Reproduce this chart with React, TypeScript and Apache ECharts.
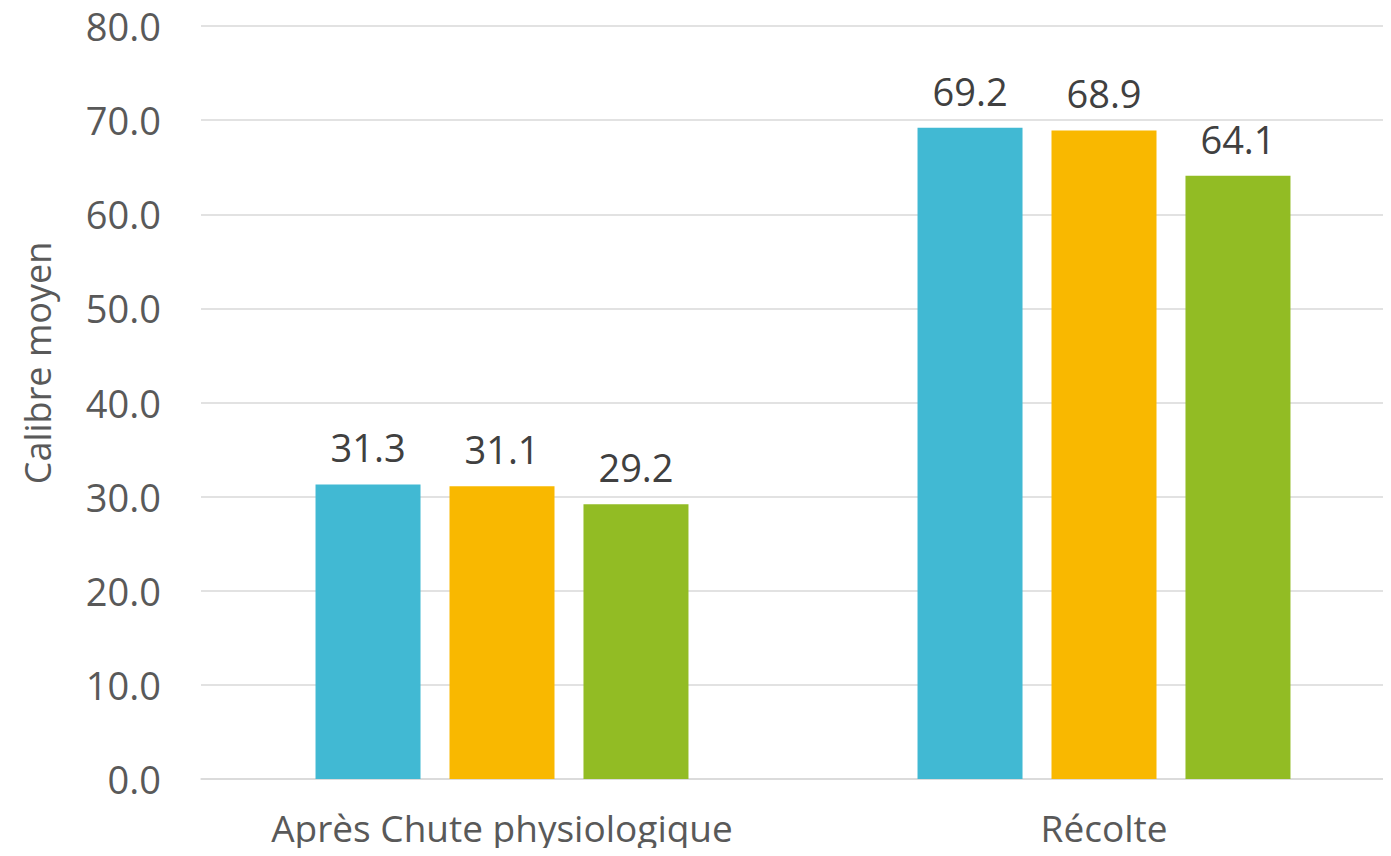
import React, { useEffect, useRef } from "react";
import * as echarts from "echarts";

const categories = ["Après Chute physiologique", "Récolte"];
const seriesA = [31.3, 69.2];
const seriesB = [31.1, 68.9];
const seriesC = [29.2, 64.1];
const seriesNames = ["Série 1", "Série 2", "Série 3"];
const colors = ["#41B9D3", "#F9B800", "#92BC24"];
const yTitle = "Calibre moyen";

const FONT = "'Open Sans', 'Noto Sans', sans-serif";

export default function App() {
  const ref = useRef<HTMLDivElement>(null);
  useEffect(() => {
    if (!ref.current) return;
    const chart = echarts.init(ref.current, undefined, { renderer: "svg" });
    const mk = (name: string, data: number[], color: string) => ({
      name,
      type: "bar",
      data,
      barWidth: 105,
      barGap: "27.6%",
      itemStyle: { color },
      label: {
        show: true,
        position: "top",
        distance: 18,
        formatter: (p: any) => Number(p.value).toFixed(1),
        fontFamily: FONT,
        fontSize: 38,
        color: "#404040",
      },
    });
    chart.setOption({
      animation: false,
      textStyle: { fontFamily: FONT },
      grid: {
        left: 201,
        width: 1204,
        top: 26,
        bottom: 77,
        containLabel: false,
        outerBoundsMode: "none",
      },
      xAxis: {
        type: "category",
        data: categories,
        axisTick: { show: false },
        axisLine: { show: true, lineStyle: { color: "#D9D9D9", width: 1.5 } },
        axisLabel: {
          interval: 0,
          fontFamily: FONT,
          fontSize: 37,
          color: "#595959",
          margin: 30,
          hideOverlap: false,
        },
      },
      yAxis: {
        type: "value",
        min: 0,
        max: 80,
        interval: 10,
        axisLine: { show: false },
        axisTick: { show: false },
        splitLine: { lineStyle: { color: "#D9D9D9", width: 1.5 } },
        axisLabel: {
          fontFamily: FONT,
          fontSize: 38,
          color: "#595959",
          margin: 40,
          formatter: (v: number) => v.toFixed(1),
        },
      },
      graphic: [
        {
          type: "text",
          x: 37,
          y: 363,
          rotation: Math.PI / 2,
          style: {
            text: yTitle,
            fontFamily: FONT,
            fontSize: 36,
            fill: "#595959",
            align: "center",
            verticalAlign: "middle",
          },
        },
      ],
      series: [
        mk(seriesNames[0], seriesA, colors[0]),
        mk(seriesNames[1], seriesB, colors[1]),
        mk(seriesNames[2], seriesC, colors[2]),
      ],
    });
    return () => chart.dispose();
  }, []);
  return <div ref={ref} style={{ width: 1391, height: 856, margin: -8 }} />;
}
